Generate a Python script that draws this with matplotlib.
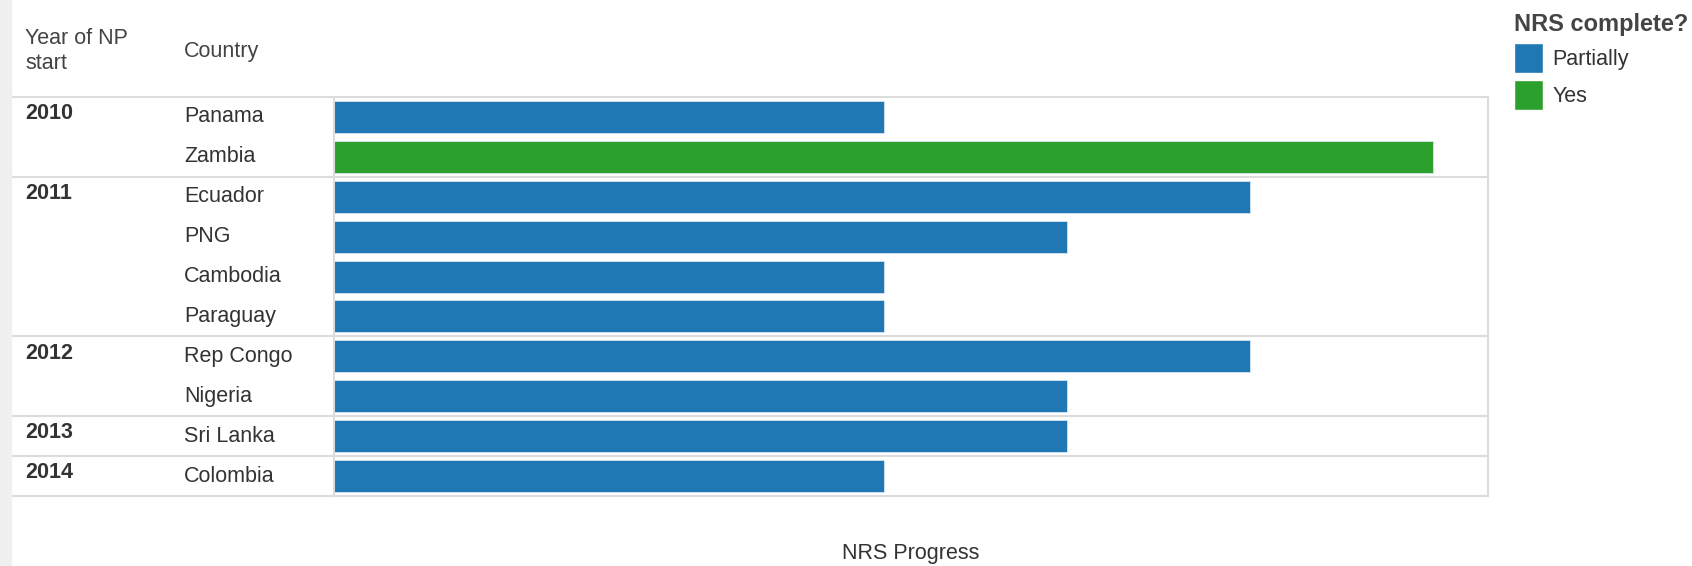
import matplotlib
matplotlib.use("Agg")
import matplotlib.pyplot as plt
import matplotlib.patches as mpatches
import matplotlib.transforms as mtransforms

plt.rcParams["font.family"] = ["Liberation Sans", "DejaVu Sans"]

# data
years = ["2010", "2010", "2011", "2011", "2011", "2011", "2012", "2012", "2013", "2014"]
countries = ["Panama", "Zambia", "Ecuador", "PNG", "Cambodia", "Paraguay",
             "Rep Congo", "Nigeria", "Sri Lanka", "Colombia"]
progress = [3, 6, 5, 4, 3, 3, 5, 4, 4, 3]
complete = ["Partially", "Yes", "Partially", "Partially", "Partially", "Partially",
            "Partially", "Partially", "Partially", "Partially"]

COLORS = {"Partially": "#1f77b4", "Yes": "#2ca02c"}
LINE = "#dcdcdc"
TXT = "#333333"

W, H = 1692, 566
fig = plt.figure(figsize=(W / 100, H / 100), dpi=100)
fig.patch.set_facecolor("white")

# grey strip on the left edge
fig.patches.append(mpatches.Rectangle((0, 0), 11 / W, 1, transform=fig.transFigure,
                                      color="#f0f0f0", zorder=0))

left, right, top, bottom = 334, 1488, 97, 496
ax = fig.add_axes([left / W, 1 - bottom / H, (right - left) / W, (bottom - top) / H])
n = len(countries)
ypos = list(range(n))
ax.barh(ypos, progress, height=0.8, color=[COLORS[c] for c in complete],
        edgecolor="#d6e6f2", linewidth=0.6, zorder=2)
ax.set_xlim(0, 6.3)
ax.set_ylim(n - 0.5, -0.5)
ax.set_xticks([])
ax.set_yticks([])
for s in ["top", "bottom"]:
    ax.spines[s].set_visible(False)
for s in ["left", "right"]:
    ax.spines[s].set_color(LINE)
    ax.spines[s].set_linewidth(1.5)

trans = mtransforms.blended_transform_factory(ax.transAxes, ax.transData)
table_left = (11 - left) / (right - left)
year_x = (25 - left) / (right - left)
country_x = (184 - left) / (right - left)

# group separators
bounds = [-0.5]
for i in range(1, n):
    if years[i] != years[i - 1]:
        bounds.append(i - 0.5)
bounds.append(n - 0.5)
for b in bounds:
    ax.plot([table_left, 1], [b, b], color=LINE, lw=1.5, transform=trans,
            clip_on=False, zorder=1)

fs = 15.5
shown = set()
for i, (yr, c) in enumerate(zip(years, countries)):
    ax.text(country_x, i, c, transform=trans, ha="left", va="center",
            fontsize=fs, color=TXT)
    if yr not in shown:
        shown.add(yr)
        ax.text(year_x, i - 0.08, yr, transform=trans, ha="left", va="center",
                fontsize=fs, color=TXT, fontweight="bold")

# column headers
fig.text(25 / W, 1 - 51 / H, "Year of NP\nstart", ha="left", va="center",
         fontsize=fs, color="#444444", linespacing=1.3)
fig.text(184 / W, 1 - 51 / H, "Country", ha="left", va="center",
         fontsize=fs, color="#444444")

ax.set_xlabel("NRS Progress", fontsize=fs, color=TXT)
ax.xaxis.set_label_coords(0.5, -(553 - bottom) / (bottom - top))
ax.xaxis.label.set_va("center")

handles = [mpatches.Patch(facecolor=COLORS[k], edgecolor="white", label=k)
           for k in ["Partially", "Yes"]]
leg = fig.legend(handles=handles, title="NRS complete?", loc="upper left",
                 bbox_to_anchor=(1505 / W, 1 - 4 / H), frameon=False,
                 fontsize=fs, handlelength=1.35, handleheight=1.75,
                 handletextpad=0.45, labelspacing=0.35, borderaxespad=0)
leg.get_title().set_fontweight("bold")
leg.get_title().set_fontsize(17)
leg.get_title().set_color("#444444")
leg._legend_box.align = "left"
for t in leg.get_texts():
    t.set_color(TXT)

fig.savefig("out.png", dpi=100)
